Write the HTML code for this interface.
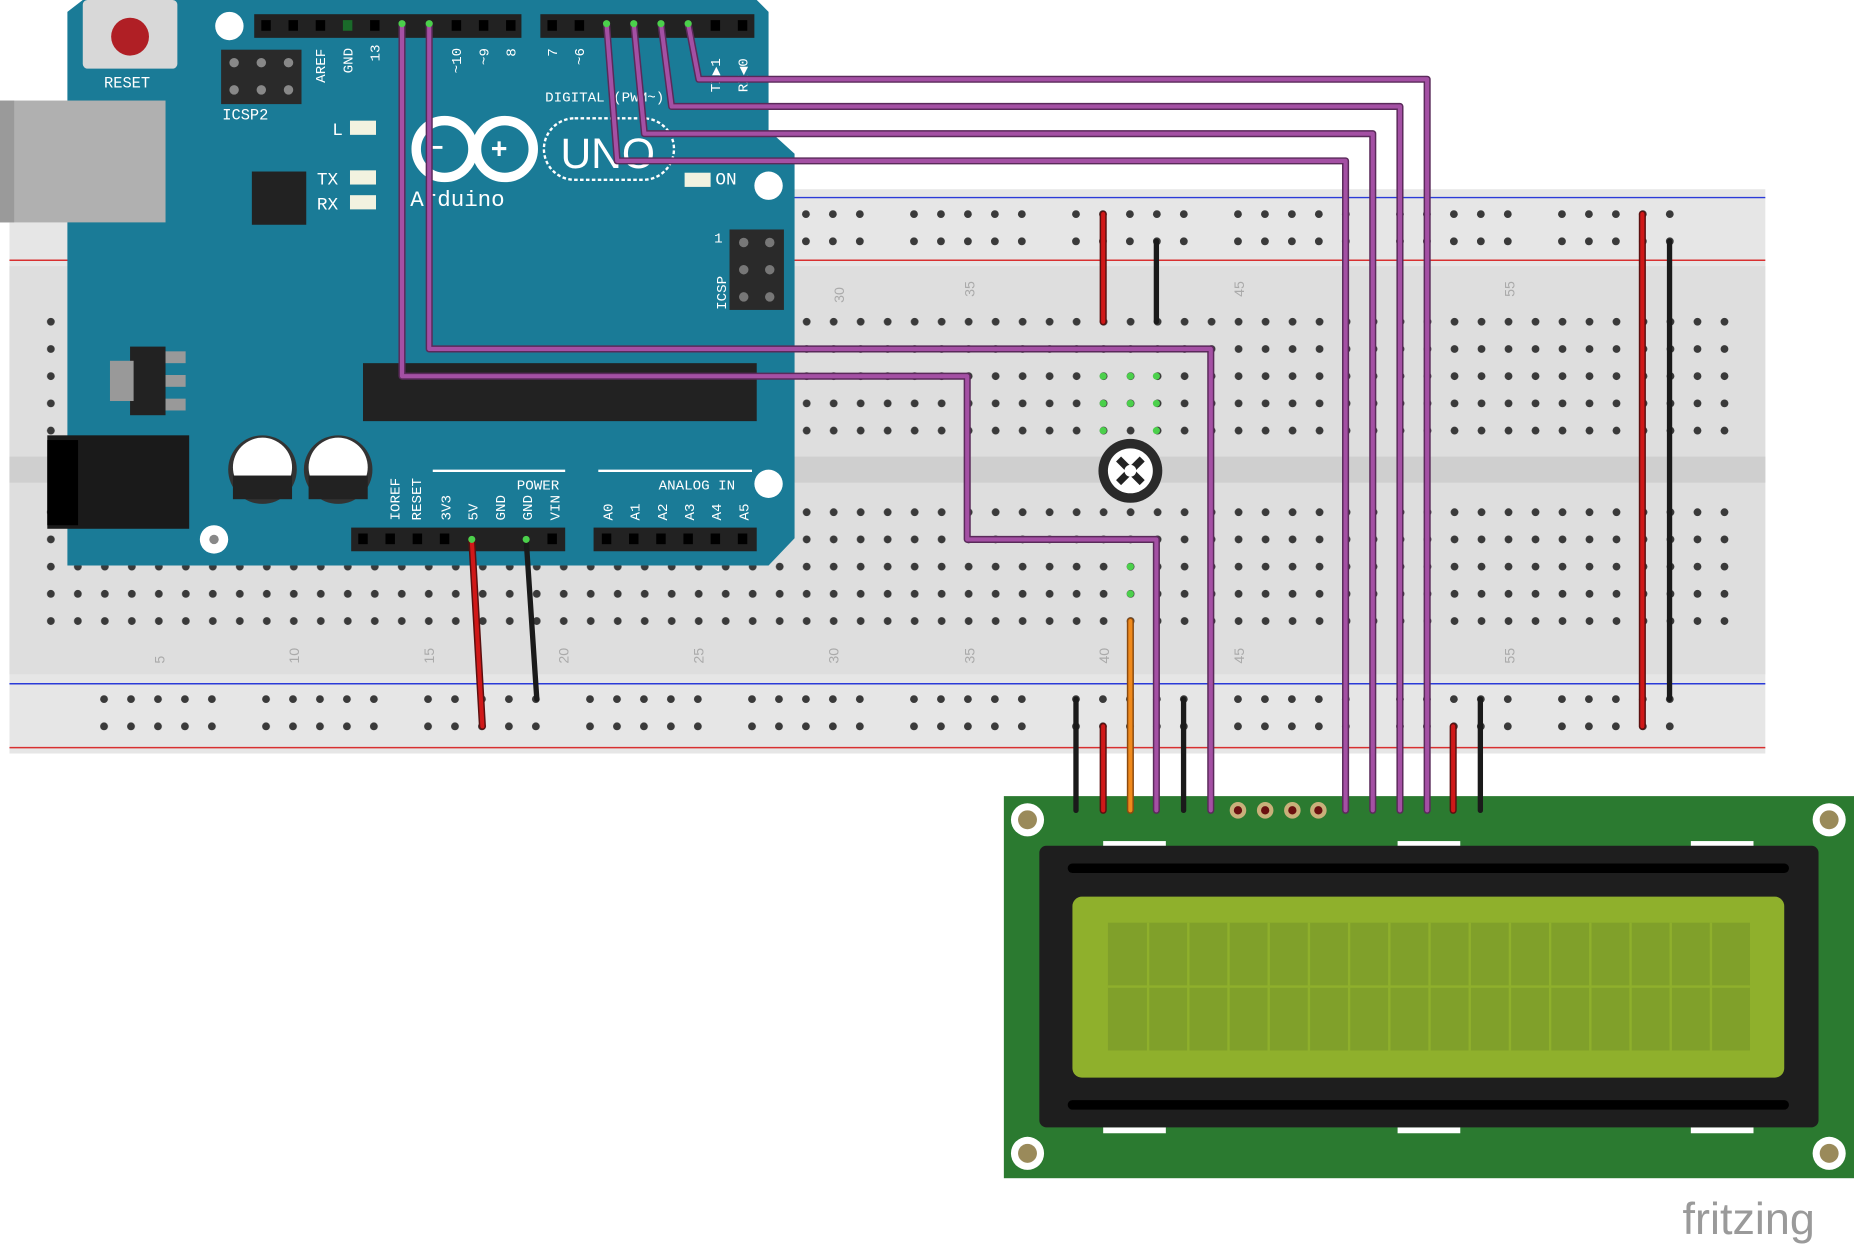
<!DOCTYPE html>
<html><head><meta charset="utf-8"><style>
html,body{margin:0;padding:0;background:#fff;width:1854px;height:1248px;overflow:hidden}
svg{display:block}
text{font-family:"Liberation Mono",monospace}
text.sans{font-family:"Liberation Sans",sans-serif}
</style></head><body>
<svg width="1854" height="1248" viewBox="0 0 1568 1055" preserveAspectRatio="none" xmlns="http://www.w3.org/2000/svg">
<defs>
<pattern id="rail" x="80" y="0" width="137" height="1055" patternUnits="userSpaceOnUse">
<g fill="#3a3a3a">
<circle cx="8" cy="181" r="3.3"/><circle cx="30.8" cy="181" r="3.3"/><circle cx="53.6" cy="181" r="3.3"/><circle cx="76.4" cy="181" r="3.3"/><circle cx="99.2" cy="181" r="3.3"/>
<circle cx="8" cy="204" r="3.3"/><circle cx="30.8" cy="204" r="3.3"/><circle cx="53.6" cy="204" r="3.3"/><circle cx="76.4" cy="204" r="3.3"/><circle cx="99.2" cy="204" r="3.3"/>
<circle cx="8" cy="591" r="3.3"/><circle cx="30.8" cy="591" r="3.3"/><circle cx="53.6" cy="591" r="3.3"/><circle cx="76.4" cy="591" r="3.3"/><circle cx="99.2" cy="591" r="3.3"/>
<circle cx="8" cy="614" r="3.3"/><circle cx="30.8" cy="614" r="3.3"/><circle cx="53.6" cy="614" r="3.3"/><circle cx="76.4" cy="614" r="3.3"/><circle cx="99.2" cy="614" r="3.3"/>
</g></pattern>
<pattern id="main" x="31.6" y="0" width="22.83" height="1055" patternUnits="userSpaceOnUse">
<g fill="#3a3a3a">
<circle cx="11.4" cy="272" r="3.3"/><circle cx="11.4" cy="295" r="3.3"/><circle cx="11.4" cy="318" r="3.3"/><circle cx="11.4" cy="341" r="3.3"/><circle cx="11.4" cy="364" r="3.3"/>
<circle cx="11.4" cy="433" r="3.3"/><circle cx="11.4" cy="456" r="3.3"/><circle cx="11.4" cy="479" r="3.3"/><circle cx="11.4" cy="502" r="3.3"/><circle cx="11.4" cy="525" r="3.3"/>
</g></pattern>
</defs>
<!-- breadboard -->
<rect x="8" y="160" width="1485" height="477" fill="#e6e6e6"/>
<rect x="8" y="225" width="1485" height="345" fill="#dedede"/>
<rect x="8" y="386" width="1485" height="22" fill="#cfcfcf"/>
<line x1="8" y1="167" x2="1493" y2="167" stroke="#2a3ad8" stroke-width="1.2"/>
<line x1="8" y1="220" x2="1493" y2="220" stroke="#d83030" stroke-width="1.2"/>
<line x1="8" y1="578" x2="1493" y2="578" stroke="#2a3ad8" stroke-width="1.2"/>
<line x1="8" y1="632" x2="1493" y2="632" stroke="#d83030" stroke-width="1.2"/>
<rect x="60" y="160" width="1380" height="480" fill="url(#rail)"/>
<rect x="31" y="260" width="1440" height="280" fill="url(#main)"/>
<g fill="#aaa" font-size="12">
<text class="sans" x="700" y="250" transform="rotate(-90 710 246)">30</text>
<text class="sans" x="815" y="250" transform="rotate(-90 820 246)">35</text>
<text class="sans" x="1043" y="250" transform="rotate(-90 1048 246)">45</text>
<text class="sans" x="1272" y="250" transform="rotate(-90 1277 246)">55</text>
<text class="sans" x="130" y="560" transform="rotate(-90 135 556)">5</text>
<text class="sans" x="244" y="560" transform="rotate(-90 249 556)">10</text>
<text class="sans" x="358" y="560" transform="rotate(-90 363 556)">15</text>
<text class="sans" x="472" y="560" transform="rotate(-90 477 556)">20</text>
<text class="sans" x="586" y="560" transform="rotate(-90 591 556)">25</text>
<text class="sans" x="700" y="560" transform="rotate(-90 705 556)">30</text>
<text class="sans" x="815" y="560" transform="rotate(-90 820 556)">35</text>
<text class="sans" x="929" y="560" transform="rotate(-90 934 556)">40</text>
<text class="sans" x="1043" y="560" transform="rotate(-90 1048 556)">45</text>
<text class="sans" x="1272" y="560" transform="rotate(-90 1277 556)">55</text>
</g>
<!-- arduino -->
<path d="M57 10 L70 0 L640 0 L650 10 L650 110 L672 130 L672 455 L650 478 L57 478 Z" fill="#1a7b97"/>
<rect x="70" y="0" width="80" height="58" rx="4" fill="#d8d8d8"/>
<circle cx="110" cy="31" r="16" fill="#b01f25"/>
<text x="88" y="74" fill="#fff" font-size="13">RESET</text>
<rect x="0" y="85" width="140" height="103" fill="#b0b0b0"/>
<rect x="0" y="85" width="12" height="103" fill="#9a9a9a"/>
<circle cx="194" cy="22" r="12" fill="#fff"/>
<circle cx="650" cy="157" r="12" fill="#fff"/><circle cx="650" cy="409" r="12" fill="#fff"/><circle cx="181" cy="456" r="12" fill="#fff"/>
<circle cx="181" cy="456" r="4" fill="#888"/>
<rect x="187" y="42" width="68" height="46" fill="#2a2a2a"/>
<g fill="#888"><circle cx="198" cy="53" r="4"/><circle cx="221" cy="53" r="4"/><circle cx="244" cy="53" r="4"/><circle cx="198" cy="76" r="4"/><circle cx="221" cy="76" r="4"/><circle cx="244" cy="76" r="4"/></g>
<text x="188" y="101" fill="#fff" font-size="13">ICSP2</text>
<rect x="215" y="12" width="226" height="20" fill="#222"/>
<rect x="457" y="12" width="181" height="20" fill="#222"/>
<g fill="#000">
<rect x="221" y="17" width="8" height="9"/><rect x="244" y="17" width="8" height="9"/><rect x="267" y="17" width="8" height="9"/><rect x="290" y="17" width="8" height="9" fill="#1a6a2a"/><rect x="313" y="17" width="8" height="9"/><rect x="382" y="17" width="8" height="9"/><rect x="405" y="17" width="8" height="9"/><rect x="428" y="17" width="8" height="9"/>
<rect x="463" y="17" width="8" height="9"/><rect x="486" y="17" width="8" height="9"/><rect x="601" y="17" width="8" height="9"/><rect x="624" y="17" width="8" height="9"/>
</g>
<g fill="#fff" font-size="12">
<text x="275" y="70" transform="rotate(-90 275 70)">AREF</text>
<text x="298" y="62" transform="rotate(-90 298 62)">GND</text>
<text x="321" y="52" transform="rotate(-90 321 52)">13</text>
<text x="390" y="62" transform="rotate(-90 390 62)">~10</text>
<text x="413" y="55" transform="rotate(-90 413 55)">~9</text>
<text x="436" y="48" transform="rotate(-90 436 48)">8</text>
<text x="471" y="48" transform="rotate(-90 471 48)">7</text>
<text x="494" y="55" transform="rotate(-90 494 55)">~6</text>
<text x="609" y="78" transform="rotate(-90 609 78)">TX▶1</text>
<text x="632" y="78" transform="rotate(-90 632 78)">RX◀0</text>
<text x="461" y="86">DIGITAL (PWM~)</text>
<text x="281" y="114" font-size="15">L</text>
<text x="268" y="156" font-size="15">TX</text>
<text x="268" y="177" font-size="15">RX</text>
<text x="605" y="156" font-size="15">ON</text>
<text x="604" y="205">1</text>
<text x="614" y="262" transform="rotate(-90 614 262)">ICSP</text>
</g>
<rect x="296" y="102" width="22" height="12" fill="#f2f2e0"/>
<rect x="296" y="144" width="22" height="12" fill="#f2f2e0"/>
<rect x="296" y="165" width="22" height="12" fill="#f2f2e0"/>
<rect x="579" y="146" width="22" height="12" fill="#f2f2e0"/>
<rect x="617" y="194" width="46" height="68" fill="#2a2a2a"/>
<g fill="#777"><circle cx="629" cy="205" r="4"/><circle cx="651" cy="205" r="4"/><circle cx="629" cy="228" r="4"/><circle cx="651" cy="228" r="4"/><circle cx="629" cy="251" r="4"/><circle cx="651" cy="251" r="4"/></g>
<!-- logo -->
<g fill="none" stroke="#fff" stroke-width="8">
<circle cx="376" cy="126" r="24"/><circle cx="427" cy="126" r="24"/>
</g>
<text x="362" y="132" fill="#fff" font-size="22" font-weight="bold">−</text>
<text x="415" y="134" fill="#fff" font-size="24" font-weight="bold">+</text>
<rect x="460" y="100" width="110" height="52" rx="26" fill="none" stroke="#fff" stroke-width="2" stroke-dasharray="3 2"/>
<text class="sans" x="474" y="142" fill="#fff" font-size="36">UNO</text>
<text x="347" y="174" fill="#fff" font-size="19">Arduino</text>
<rect x="213" y="145" width="46" height="45" fill="#222"/>
<rect x="110" y="293" width="30" height="58" fill="#222"/>
<rect x="93" y="305" width="20" height="34" fill="#999"/>
<rect x="140" y="297" width="17" height="10" fill="#999"/><rect x="140" y="317" width="17" height="10" fill="#999"/><rect x="140" y="337" width="17" height="10" fill="#999"/>
<rect x="307" y="307" width="333" height="49" fill="#222"/>
<rect x="40" y="368" width="120" height="79" fill="#1a1a1a"/>
<rect x="40" y="372" width="26" height="72" fill="#000"/>
<g><circle cx="222" cy="397" r="29" fill="#333"/><circle cx="222" cy="395" r="25" fill="#fff"/><rect x="197" y="402" width="50" height="20" fill="#222"/></g>
<g><circle cx="286" cy="397" r="29" fill="#333"/><circle cx="286" cy="395" r="25" fill="#fff"/><rect x="261" y="402" width="50" height="20" fill="#222"/></g>
<line x1="366" y1="398" x2="478" y2="398" stroke="#fff" stroke-width="2"/>
<line x1="506" y1="398" x2="636" y2="398" stroke="#fff" stroke-width="2"/>
<g fill="#fff" font-size="12">
<text x="437" y="414">POWER</text><text x="557" y="414">ANALOG IN</text>
<text x="338" y="440" transform="rotate(-90 338 440)">IOREF</text>
<text x="356" y="440" transform="rotate(-90 356 440)">RESET</text>
<text x="381" y="440" transform="rotate(-90 381 440)">3V3</text>
<text x="404" y="440" transform="rotate(-90 404 440)">5V</text>
<text x="427" y="440" transform="rotate(-90 427 440)">GND</text>
<text x="450" y="440" transform="rotate(-90 450 440)">GND</text>
<text x="473" y="440" transform="rotate(-90 473 440)">VIN</text>
<text x="518" y="440" transform="rotate(-90 518 440)">A0</text>
<text x="541" y="440" transform="rotate(-90 541 440)">A1</text>
<text x="564" y="440" transform="rotate(-90 564 440)">A2</text>
<text x="587" y="440" transform="rotate(-90 587 440)">A3</text>
<text x="610" y="440" transform="rotate(-90 610 440)">A4</text>
<text x="633" y="440" transform="rotate(-90 633 440)">A5</text>
</g>
<rect x="297" y="446" width="181" height="20" fill="#222"/>
<rect x="502" y="446" width="138" height="20" fill="#222"/>
<g fill="#000"><rect x="303" y="451" width="8" height="9"/><rect x="326" y="451" width="8" height="9"/><rect x="349" y="451" width="8" height="9"/><rect x="372" y="451" width="8" height="9"/><rect x="463" y="451" width="8" height="9"/>
<rect x="509" y="451" width="8" height="9"/><rect x="532" y="451" width="8" height="9"/><rect x="555" y="451" width="8" height="9"/><rect x="578" y="451" width="8" height="9"/><rect x="601" y="451" width="8" height="9"/><rect x="624" y="451" width="8" height="9"/></g>
<!-- LCD -->
<rect x="849" y="673" width="719" height="323" fill="#2b7a30"/>
<g fill="#fff"><circle cx="869" cy="693" r="14"/><circle cx="1547" cy="693" r="14"/><circle cx="869" cy="975" r="14"/><circle cx="1547" cy="975" r="14"/></g>
<g fill="#9a8a5a"><circle cx="869" cy="693" r="8"/><circle cx="1547" cy="693" r="8"/><circle cx="869" cy="975" r="8"/><circle cx="1547" cy="975" r="8"/></g>
<g fill="#fff"><rect x="933" y="711" width="53" height="5"/><rect x="1182" y="711" width="53" height="5"/><rect x="1430" y="711" width="53" height="5"/><rect x="933" y="953" width="53" height="5"/><rect x="1182" y="953" width="53" height="5"/><rect x="1430" y="953" width="53" height="5"/></g>
<rect x="879" y="715" width="659" height="238" rx="6" fill="#1e1e1e"/>
<rect x="903" y="730" width="610" height="8" rx="4" fill="#000"/>
<rect x="903" y="930" width="610" height="8" rx="4" fill="#000"/>
<rect x="907" y="758" width="602" height="153" rx="8" fill="#8fb02c"/>
<rect x="937" y="780" width="543" height="108" fill="#80a02a"/>
<g stroke="#8fb02c" stroke-width="2">
<line x1="937" y1="834" x2="1480" y2="834"/>
<line x1="971" y1="780" x2="971" y2="888"/><line x1="1005" y1="780" x2="1005" y2="888"/><line x1="1039" y1="780" x2="1039" y2="888"/><line x1="1073" y1="780" x2="1073" y2="888"/><line x1="1107" y1="780" x2="1107" y2="888"/><line x1="1141" y1="780" x2="1141" y2="888"/><line x1="1175" y1="780" x2="1175" y2="888"/><line x1="1209" y1="780" x2="1209" y2="888"/><line x1="1243" y1="780" x2="1243" y2="888"/><line x1="1277" y1="780" x2="1277" y2="888"/><line x1="1311" y1="780" x2="1311" y2="888"/><line x1="1345" y1="780" x2="1345" y2="888"/><line x1="1379" y1="780" x2="1379" y2="888"/><line x1="1413" y1="780" x2="1413" y2="888"/><line x1="1447" y1="780" x2="1447" y2="888"/>
</g>
<g fill="#c9b07a"><circle cx="1047" cy="685" r="7"/><circle cx="1070" cy="685" r="7"/><circle cx="1093" cy="685" r="7"/><circle cx="1115" cy="685" r="7"/></g>
<g fill="#6a1010"><circle cx="1047" cy="685" r="3.5"/><circle cx="1070" cy="685" r="3.5"/><circle cx="1093" cy="685" r="3.5"/><circle cx="1115" cy="685" r="3.5"/></g>
<!-- potentiometer -->
<circle cx="956" cy="398" r="27" fill="#2a2a2a"/>
<circle cx="956" cy="398" r="19" fill="#fff"/>
<path d="M946 388 L966 408 M966 388 L946 408" stroke="#222" stroke-width="6"/>
<circle cx="956" cy="398" r="5" fill="#fff"/>
<!-- wires -->
<g fill="none" stroke-linejoin="round" stroke-linecap="round">
<g stroke="#5a2a5a" stroke-width="6">
<polyline points="340,20 340,318 818,318 818,456 978,456 978,685"/>
<polyline points="363,20 363,295 1024,295 1024,685"/>
<polyline points="513,20 522,136 1138,136 1138,685"/>
<polyline points="536,20 545,113 1161,113 1161,685"/>
<polyline points="559,20 568,90 1184,90 1184,685"/>
<polyline points="582,20 591,67 1207,67 1207,685"/>
</g>
<g stroke="#a450a4" stroke-width="3.5">
<polyline points="340,20 340,318 818,318 818,456 978,456 978,685"/>
<polyline points="363,20 363,295 1024,295 1024,685"/>
<polyline points="513,20 522,136 1138,136 1138,685"/>
<polyline points="536,20 545,113 1161,113 1161,685"/>
<polyline points="559,20 568,90 1184,90 1184,685"/>
<polyline points="582,20 591,67 1207,67 1207,685"/>
</g>
<g stroke-width="6" stroke="#5a1010">
<line x1="933" y1="181" x2="933" y2="272"/><line x1="1389" y1="181" x2="1389" y2="614"/><line x1="399" y1="456" x2="408" y2="614"/><line x1="933" y1="614" x2="933" y2="685"/><line x1="1229" y1="614" x2="1229" y2="685"/>
</g>
<g stroke-width="3.5" stroke="#d01818">
<line x1="933" y1="181" x2="933" y2="272"/><line x1="1389" y1="181" x2="1389" y2="614"/><line x1="399" y1="456" x2="408" y2="614"/><line x1="933" y1="614" x2="933" y2="685"/><line x1="1229" y1="614" x2="1229" y2="685"/>
</g>
<g stroke-width="4.5" stroke="#1a1a1a">
<line x1="978" y1="204" x2="978" y2="272"/><line x1="1412" y1="204" x2="1412" y2="591"/><line x1="445" y1="456" x2="454" y2="591"/><line x1="910" y1="591" x2="910" y2="685"/><line x1="1001" y1="591" x2="1001" y2="685"/><line x1="1252" y1="591" x2="1252" y2="685"/>
</g>
<line x1="956" y1="525" x2="956" y2="685" stroke="#8a4a10" stroke-width="6"/>
<line x1="956" y1="525" x2="956" y2="685" stroke="#f08a1c" stroke-width="3.5"/>
</g>
<g fill="#4bd04b">
<circle cx="340" cy="20" r="3"/><circle cx="363" cy="20" r="3"/><circle cx="513" cy="20" r="3"/><circle cx="536" cy="20" r="3"/><circle cx="559" cy="20" r="3"/><circle cx="582" cy="20" r="3"/>
<circle cx="399" cy="456" r="3"/><circle cx="445" cy="456" r="3"/>
<circle cx="933" cy="318" r="3"/><circle cx="956" cy="318" r="3"/><circle cx="978" cy="318" r="3"/><circle cx="933" cy="341" r="3"/><circle cx="956" cy="341" r="3"/><circle cx="978" cy="341" r="3"/><circle cx="933" cy="364" r="3"/><circle cx="978" cy="364" r="3"/>
<circle cx="956" cy="479" r="3"/><circle cx="956" cy="502" r="3"/>
</g>
<text class="sans" x="1423" y="1043" fill="#9a9a9a" font-size="38">fritzing</text>
</svg>
</body></html>
